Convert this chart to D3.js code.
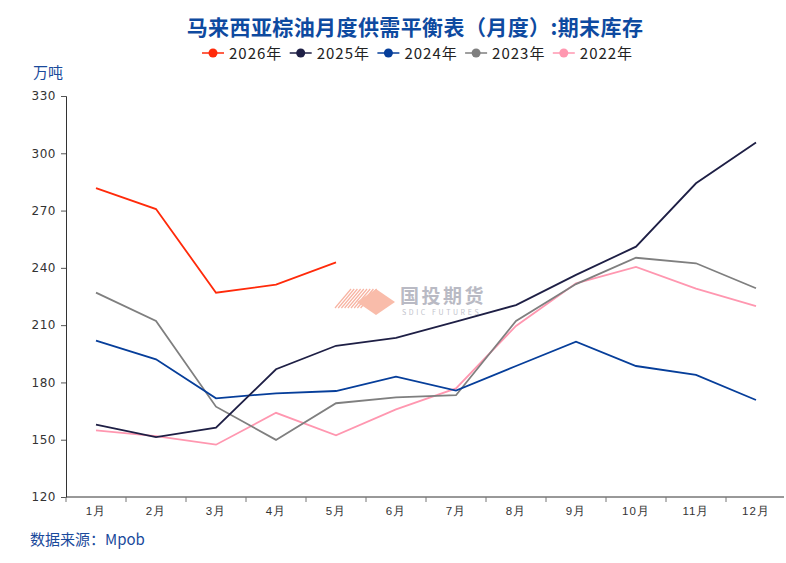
<!DOCTYPE html>
<html>
<head>
<meta charset="utf-8">
<script src="https://cdn.jsdelivr.net/npm/d3@7"></script>
<style>
  body { margin: 0; background: #fff; }
  svg { font-family: "Noto Sans CJK SC", "Noto Sans", sans-serif; }
</style>
</head>
<body>
<svg width="786" height="563"></svg>
<script>
// 月份
const months = ["1月","2月","3月","4月","5月","6月","7月","8月","9月","10月","11月","12月"];
// 期末库存（万吨）
const y2026 = [281.8, 270.8, 227.0, 231.2, 242.9];
const y2025 = [157.9, 151.4, 156.3, 186.9, 199.2, 203.3, 211.8, 220.5, 236.3, 251.1, 284.3, 305.6];
const y2024 = [201.9, 192.1, 171.7, 174.3, 175.5, 183.0, 175.7, 188.6, 201.3, 188.6, 183.9, 170.8];
const y2023 = [227.0, 212.2, 167.3, 149.9, 169.1, 172.2, 173.3, 212.2, 231.5, 245.3, 242.4, 229.3];
const y2022 = [154.9, 151.9, 147.4, 164.1, 152.3, 165.9, 176.9, 209.6, 231.9, 240.5, 229.1, 220.0];
const yTicks = [120, 150, 180, 210, 240, 270, 300, 330];

const series = [
    { name: "2026年", values: y2026, color: "#ff2a0a" },
    { name: "2025年", values: y2025, color: "#1e1f45" },
    { name: "2024年", values: y2024, color: "#063e9a" },
    { name: "2023年", values: y2023, color: "#7f7f7f" },
    { name: "2022年", values: y2022, color: "#ff97b0" }
];

const width = 786, height = 563;
const margin = { top: 96, right: 0, bottom: 66, left: 66 };
const svg = d3.select("svg");

const x = d3.scaleBand()
    .domain(months)
    .range([margin.left, width - margin.right]);

const y = d3.scaleLinear()
    .domain([120, 330])
    .range([height - margin.bottom, margin.top]);

// 水印
const wm = svg.append("g").attr("transform", "translate(335,288)");
const hatch = wm.append("g").attr("stroke", "#f7b3a2").attr("stroke-width", 1.2);
for (let i = 0; i < 9; i++) {
    hatch.append("line")
        .attr("x1", i * 3.2).attr("y1", 20)
        .attr("x2", i * 3.2 + 16).attr("y2", 1);
}
wm.append("path")
    .attr("d", "M22,14 L41,1 L60,14 L41,27 Z")
    .attr("fill", "#f9bcaa");
wm.append("text")
    .attr("x", 65).attr("y", 15)
    .style("font-size", "19px")
    .style("font-weight", "bold")
    .style("letter-spacing", "2.5px")
    .style("fill", "#b9bac4")
    .text("国投期货");
wm.append("text")
    .attr("x", 67).attr("y", 27)
    .style("font-size", "7px")
    .style("letter-spacing", "2.6px")
    .style("fill", "#c2c3cc")
    .text("SDIC FUTURES");

// y 轴
const yAxis = svg.append("g")
    .attr("transform", `translate(${margin.left},0)`)
    .call(d3.axisLeft(y).tickValues(yTicks).tickSize(5).tickPadding(5));
yAxis.select(".domain").attr("stroke", "#333");
yAxis.selectAll(".tick line").attr("stroke", "#555");
yAxis.selectAll("text")
    .style("font-family", "'DejaVu Sans', sans-serif")
    .style("font-size", "12px")
    .style("letter-spacing", "0.5px")
    .style("fill", "#333");

// x 轴
const xAxis = svg.append("g")
    .attr("transform", `translate(0,${y(120)})`)
    .call(d3.axisBottom(x).tickSize(0).tickPadding(10));
xAxis.select(".domain").attr("stroke", "#333").attr("d", `M${margin.left},0H${width - 2}`);
xAxis.selectAll("text")
    .style("font-size", "11.5px")
    .style("letter-spacing", "1px")
    .style("fill", "#333");
// 分隔刻度
svg.append("g")
    .selectAll("line")
    .data(months)
    .enter()
    .append("line")
    .attr("x1", d => x(d))
    .attr("x2", d => x(d))
    .attr("y1", y(120))
    .attr("y2", y(120) + 5)
    .attr("stroke", "#777");

// 折线
const line = d3.line()
    .x((d, i) => x(months[i]) + x.bandwidth() / 2)
    .y(d => y(d));

svg.selectAll(".series")
    .data(series.slice().reverse())
    .enter()
    .append("path")
    .attr("class", "series")
    .attr("d", d => line(d.values))
    .attr("fill", "none")
    .attr("stroke", d => d.color)
    .attr("stroke-width", 1.8);

// 标题
svg.append("text")
    .attr("x", 415)
    .attr("y", 35)
    .style("text-anchor", "middle")
    .style("font-size", "21px")
    .style("font-weight", "bold")
    .style("letter-spacing", "0.4px")
    .style("fill", "#0e4aa0")
    .text("马来西亚棕油月度供需平衡表（月度）:期末库存");

// 图例
const legend = svg.append("g");
series.forEach((s, i) => {
    const gx = 202 + i * 87.7;
    const g = legend.append("g").attr("transform", `translate(${gx},53)`);
    g.append("line")
        .attr("x1", 0).attr("x2", 22)
        .attr("stroke", s.color).attr("stroke-width", 1.5);
    g.append("circle")
        .attr("cx", 11).attr("r", 4.5)
        .attr("fill", s.color);
    g.append("text")
        .attr("x", 27).attr("y", 5.5)
        .style("font-size", "15px")
        .style("letter-spacing", "1px")
        .style("fill", "#222")
        .text(s.name);
});

// 单位
svg.append("text")
    .attr("x", 33).attr("y", 78)
    .style("font-size", "15px")
    .style("fill", "#1a4a9c")
    .text("万吨");

// 来源
svg.append("text")
    .attr("x", 30).attr("y", 545)
    .style("font-size", "15px")
    .style("fill", "#1a4a9c")
    .text("数据来源：Mpob");
</script>
</body>
</html>
